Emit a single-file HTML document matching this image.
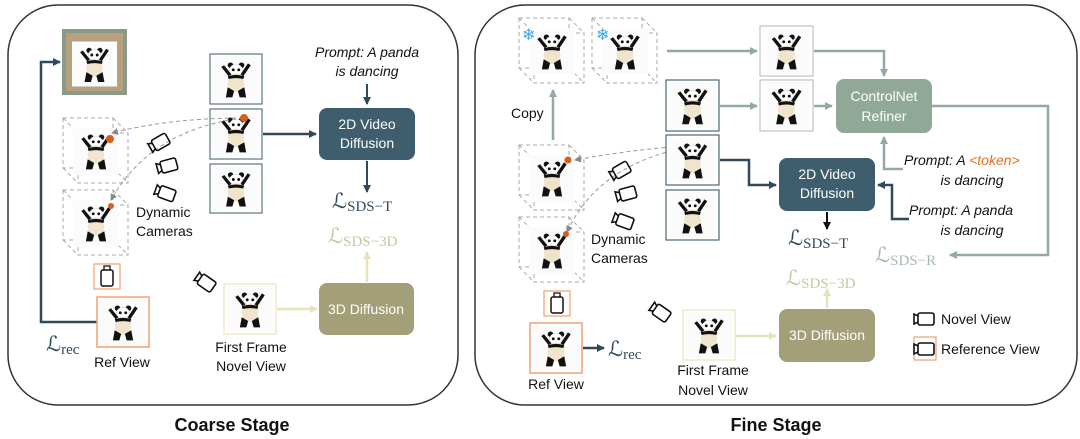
<!DOCTYPE html>
<html><head><meta charset="utf-8"><style>
html,body{margin:0;padding:0;background:#fff;}
svg{display:block;font-family:"Liberation Sans",sans-serif;}
.m{font-family:"Liberation Serif",serif;}
</style></head><body>
<svg width="1080" height="439" viewBox="0 0 1080 439" xmlns="http://www.w3.org/2000/svg">
<defs>
<symbol id="pd" viewBox="0 0 50 50">
<rect width="50" height="50" fill="#fbfbfb"/>
<circle cx="19" cy="10" r="3" fill="#111"/><circle cx="31" cy="10" r="3" fill="#111"/>
<ellipse cx="25" cy="15" rx="7" ry="6" fill="#fff" stroke="#ccc" stroke-width=".5"/>
<circle cx="22" cy="15" r="1.6" fill="#111"/><circle cx="28" cy="15" r="1.6" fill="#111"/>
<path d="M17 22 L9 12 L12 10 L20 20 Z M33 22 L41 10 L38 8 L30 20Z" fill="#111"/>
<ellipse cx="25" cy="29" rx="9" ry="10" fill="#f1e4cc"/>
<path d="M16 34 L14 45 L21 45 L23 38 Z M34 34 L36 45 L29 45 L27 38 Z" fill="#111"/>
<path d="M16 22 Q25 19 34 22 L33 25 Q25 23 17 25Z" fill="#111"/>
</symbol>
<symbol id="cam" viewBox="0 0 24 16">
<rect x="6" y="2" width="16" height="12" rx="2" fill="none" stroke="#111" stroke-width="1.6"/>
<path d="M6 5 L2 3 L2 13 L6 11" fill="none" stroke="#111" stroke-width="1.6"/>
</symbol>
<marker id="ad" markerWidth="8" markerHeight="8" refX="7" refY="4" orient="auto" markerUnits="userSpaceOnUse"><path d="M0 0 L8 4 L0 8Z" fill="#2f4a58"/></marker>
<marker id="ag" markerWidth="8" markerHeight="8" refX="7" refY="4" orient="auto" markerUnits="userSpaceOnUse"><path d="M0 0 L8 4 L0 8Z" fill="#93ab9b"/></marker>
<marker id="ay" markerWidth="8" markerHeight="8" refX="7" refY="4" orient="auto" markerUnits="userSpaceOnUse"><path d="M0 0 L8 4 L0 8Z" fill="#e6e3b8"/></marker>
<marker id="ak" markerWidth="8" markerHeight="8" refX="7" refY="4" orient="auto" markerUnits="userSpaceOnUse"><path d="M0 0 L8 4 L0 8Z" fill="#111"/></marker>
<marker id="ar" markerWidth="7" markerHeight="7" refX="6" refY="3.5" orient="auto" markerUnits="userSpaceOnUse"><path d="M0 0 L7 3.5 L0 7Z" fill="#888"/></marker>
<g id="cube">
<rect x="0" y="0" width="50" height="50" fill="none" stroke="#aaa" stroke-dasharray="4 3"/>
<rect x="15" y="15" width="50" height="50" fill="none" stroke="#aaa" stroke-dasharray="4 3"/>
<path d="M0 0L15 15M50 0L65 15M0 50L15 65M50 50L65 65" stroke="#aaa" stroke-dasharray="4 3"/>
<use href="#pd" x="10" y="8" width="46" height="50"/>
</g>
</defs>

<rect x="8" y="5" width="450" height="400" rx="50" fill="none" stroke="#333" stroke-width="1.5"/>
<rect x="475" y="5" width="602" height="400" rx="50" fill="none" stroke="#333" stroke-width="1.5"/>
<text x="232" y="431" font-size="18" font-weight="bold" text-anchor="middle" fill="#111">Coarse Stage</text>
<text x="776" y="431" font-size="18" font-weight="bold" text-anchor="middle" fill="#111">Fine  Stage</text>

<!-- Coarse -->
<rect x="62" y="29" width="65" height="66" fill="#8a9a88"/>
<rect x="66" y="33" width="57" height="58" fill="#c9a37a" opacity=".7"/>
<use href="#pd" x="72" y="38" width="45" height="52"/>
<path d="M97 322 H41 V62 H60" fill="none" stroke="#2f4a58" stroke-width="2.5" marker-end="url(#ad)"/>
<use href="#cube" x="63" y="118"/>
<use href="#cube" x="63" y="190"/>
<rect x="210" y="54" width="52" height="50" fill="#fff" stroke="#5d7480" stroke-width="1.2"/><use href="#pd" x="212" y="56" width="48" height="46"/>
<rect x="210" y="109" width="52" height="50" fill="#fff" stroke="#5d7480" stroke-width="1.2"/><use href="#pd" x="212" y="111" width="48" height="46"/>
<rect x="210" y="164" width="52" height="49" fill="#fff" stroke="#5d7480" stroke-width="1.2"/><use href="#pd" x="212" y="166" width="48" height="45"/>
<path d="M243 118 Q170 118 112 133" fill="none" stroke="#999" stroke-dasharray="4 3" marker-end="url(#ar)"/>
<path d="M243 118 Q150 130 111 200" fill="none" stroke="#999" stroke-dasharray="4 3" marker-end="url(#ar)"/>
<circle cx="244" cy="118" r="4" fill="#d5601c"/><circle cx="110" cy="139" r="4" fill="#d5601c"/><circle cx="111" cy="206" r="3" fill="#d5601c"/>
<use href="#cam" x="147" y="135" width="24" height="16" transform="rotate(-30 159 143)"/>
<use href="#cam" x="155" y="158" width="24" height="16" transform="rotate(-15 167 166)"/>
<use href="#cam" x="153" y="185" width="24" height="16" transform="rotate(20 165 193)"/>
<text x="136" y="217" font-size="14" fill="#111">Dynamic</text>
<text x="136" y="236" font-size="14" fill="#111">Cameras</text>
<rect x="94" y="264" width="26" height="25" fill="none" stroke="#f0a070" stroke-width="1.2"/>
<rect x="101" y="270" width="12" height="16" rx="2" fill="none" stroke="#111" stroke-width="1.5"/><path d="M104 270 V266 H110 V270" fill="none" stroke="#111" stroke-width="1.3"/>
<rect x="97" y="297" width="52" height="50" fill="#fff" stroke="#f0a070" stroke-width="1.5"/><use href="#pd" x="99" y="299" width="48" height="46"/>
<text x="46" y="351" font-size="21" fill="#2f4a58" class="m">ℒ<tspan font-size="15" dy="3">rec</tspan></text>
<text x="122" y="367" font-size="14" text-anchor="middle" fill="#111">Ref View</text>
<use href="#cam" x="193" y="274" width="24" height="16" transform="rotate(35 205 282)"/>
<rect x="224" y="284" width="52" height="50" fill="#fff" stroke="#eeeac6" stroke-width="1.5"/><use href="#pd" x="226" y="286" width="48" height="46"/>
<text x="251" y="352" font-size="14" text-anchor="middle" fill="#111">First Frame</text>
<text x="251" y="371" font-size="14" text-anchor="middle" fill="#111">Novel View</text>
<path d="M277 309 H317" stroke="#e6e3b8" stroke-width="2.5" marker-end="url(#ay)"/>
<rect x="319" y="283" width="95" height="52" rx="8" fill="#a39f78"/>
<text x="366" y="314" font-size="14" text-anchor="middle" fill="#fff">3D Diffusion</text>
<path d="M367 282 V252" stroke="#e6e3b8" stroke-width="2.5" marker-end="url(#ay)"/>
<text x="328" y="243" font-size="21" fill="#c8c6a0" class="m">ℒ<tspan font-size="15" dy="3">SDS−3D</tspan></text>
<rect x="319" y="108" width="96" height="52" rx="8" fill="#3e5e6e"/>
<text x="367" y="129" font-size="14" text-anchor="middle" fill="#fff">2D Video</text>
<text x="367" y="148" font-size="14" text-anchor="middle" fill="#fff">Diffusion</text>
<path d="M263 134 H316" stroke="#2f4a58" stroke-width="2.5" marker-end="url(#ad)"/>
<text x="367" y="57" font-size="14" font-style="italic" text-anchor="middle" fill="#111">Prompt: A panda</text>
<text x="367" y="76" font-size="14" font-style="italic" text-anchor="middle" fill="#111">is dancing</text>
<path d="M367 84 V104" stroke="#2f4a58" stroke-width="2" marker-end="url(#ad)"/>
<path d="M367 161 V192" stroke="#2f4a58" stroke-width="2" marker-end="url(#ad)"/>
<text x="332" y="208" font-size="21" fill="#2f4a58" class="m">ℒ<tspan font-size="15" dy="3">SDS−T</tspan></text>

<!-- Fine -->
<use href="#cube" x="519" y="18"/>
<use href="#cube" x="592" y="18"/>
<text x="522" y="40" font-size="16" fill="#3ba8e8">❄</text>
<text x="596" y="40" font-size="16" fill="#3ba8e8">❄</text>
<path d="M553 140 V90" stroke="#93ab9b" stroke-width="2.5" marker-end="url(#ag)"/>
<text x="511" y="118" font-size="14" fill="#111">Copy</text>
<use href="#cube" x="519" y="145"/>
<use href="#cube" x="519" y="217"/>
<path d="M700 145 Q640 148 575 160" fill="none" stroke="#999" stroke-dasharray="4 3" marker-end="url(#ar)"/>
<path d="M700 145 Q600 160 567 232" fill="none" stroke="#999" stroke-dasharray="4 3" marker-end="url(#ar)"/>
<circle cx="703" cy="145" r="3.5" fill="#d5601c"/><circle cx="568" cy="160" r="3.5" fill="#d5601c"/><circle cx="566" cy="234" r="3" fill="#d5601c"/>
<use href="#cam" x="608" y="163" width="24" height="16" transform="rotate(-30 620 171)"/>
<use href="#cam" x="614" y="186" width="24" height="16" transform="rotate(-15 626 194)"/>
<use href="#cam" x="611" y="213" width="24" height="16" transform="rotate(20 623 221)"/>
<text x="591" y="244" font-size="14" fill="#111">Dynamic</text>
<text x="591" y="263" font-size="14" fill="#111">Cameras</text>
<rect x="544" y="291" width="26" height="25" fill="none" stroke="#f0a070" stroke-width="1.2"/>
<rect x="551" y="297" width="12" height="16" rx="2" fill="none" stroke="#111" stroke-width="1.5"/><path d="M554 297 V293 H560 V297" fill="none" stroke="#111" stroke-width="1.3"/>
<rect x="530" y="323" width="52" height="50" fill="#fff" stroke="#f0a070" stroke-width="1.5"/><use href="#pd" x="532" y="325" width="48" height="46"/>
<text x="556" y="389" font-size="14" text-anchor="middle" fill="#111">Ref View</text>
<path d="M583 348 H604" stroke="#2f4a58" stroke-width="2.5" marker-end="url(#ad)"/>
<text x="608" y="356" font-size="21" fill="#2f4a58" class="m">ℒ<tspan font-size="15" dy="3">rec</tspan></text>
<use href="#cam" x="648" y="304" width="24" height="16" transform="rotate(35 660 312)"/>
<rect x="683" y="310" width="52" height="50" fill="#fff" stroke="#eeeac6" stroke-width="1.5"/><use href="#pd" x="685" y="312" width="48" height="46"/>
<text x="713" y="375" font-size="14" text-anchor="middle" fill="#111">First Frame</text>
<text x="713" y="395" font-size="14" text-anchor="middle" fill="#111">Novel View</text>
<path d="M736 336 H776" stroke="#e6e3b8" stroke-width="2.5" marker-end="url(#ay)"/>
<rect x="779" y="309" width="96" height="53" rx="8" fill="#a39f78"/>
<text x="827" y="340" font-size="14" text-anchor="middle" fill="#fff">3D Diffusion</text>
<path d="M827 308 V289" stroke="#e6e3b8" stroke-width="2.5" marker-end="url(#ay)"/>
<text x="786" y="285" font-size="21" fill="#c8c6a0" class="m">ℒ<tspan font-size="15" dy="3">SDS−3D</tspan></text>

<rect x="666" y="80" width="53" height="51" fill="#fff" stroke="#4e6673" stroke-width="1.2"/><use href="#pd" x="668" y="82" width="49" height="47"/>
<rect x="666" y="135" width="53" height="50" fill="#fff" stroke="#4e6673" stroke-width="1.2"/><use href="#pd" x="668" y="137" width="49" height="46"/>
<rect x="666" y="190" width="53" height="50" fill="#fff" stroke="#4e6673" stroke-width="1.2"/><use href="#pd" x="668" y="192" width="49" height="46"/>
<rect x="760" y="26" width="53" height="50" fill="#fff" stroke="#b7c8bc" stroke-width="1.2"/><use href="#pd" x="762" y="28" width="49" height="46"/>
<rect x="760" y="80" width="53" height="51" fill="#fff" stroke="#b7c8bc" stroke-width="1.2"/><use href="#pd" x="762" y="82" width="49" height="47"/>
<path d="M667 51 H757" stroke="#93ab9b" stroke-width="2.5" marker-end="url(#ag)"/>
<path d="M720 106 H757" stroke="#93ab9b" stroke-width="2.5" marker-end="url(#ag)"/>
<path d="M814 106 H832" stroke="#93ab9b" stroke-width="2.5" marker-end="url(#ag)"/>
<path d="M814 51 H884 V76" fill="none" stroke="#93ab9b" stroke-width="2.5" marker-end="url(#ag)"/>
<rect x="836" y="79" width="96" height="54" rx="8" fill="#8fa898"/>
<text x="884" y="101" font-size="14" text-anchor="middle" fill="#fff">ControlNet</text>
<text x="884" y="121" font-size="14" text-anchor="middle" fill="#fff">Refiner</text>
<path d="M932 106 H1048 V255 H950" fill="none" stroke="#93ab9b" stroke-width="2.5" marker-end="url(#ag)"/>
<text x="875" y="262" font-size="21" fill="#a9b9ae" class="m">ℒ<tspan font-size="15" dy="3">SDS−R</tspan></text>
<path d="M903 169 H884 V137" fill="none" stroke="#93ab9b" stroke-width="2.5" marker-end="url(#ag)"/>
<text x="904" y="165" font-size="14" font-style="italic" fill="#111">Prompt: A <tspan fill="#e07020">&lt;token&gt;</tspan></text>
<text x="972" y="185" font-size="14" font-style="italic" text-anchor="middle" fill="#111">is dancing</text>
<rect x="779" y="158" width="96" height="53" rx="8" fill="#3e5e6e"/>
<text x="827" y="179" font-size="14" text-anchor="middle" fill="#fff">2D Video</text>
<text x="827" y="198" font-size="14" text-anchor="middle" fill="#fff">Diffusion</text>
<path d="M720 160 H749 V185 H776" fill="none" stroke="#2f4a58" stroke-width="2.5" marker-end="url(#ad)"/>
<path d="M909 219 H892 V185 H878" fill="none" stroke="#2f4a58" stroke-width="2.5" marker-end="url(#ad)"/>
<text x="909" y="215" font-size="14" font-style="italic" fill="#111">Prompt: A panda</text>
<text x="972" y="235" font-size="14" font-style="italic" text-anchor="middle" fill="#111">is dancing</text>
<path d="M827 212 V229" stroke="#111" stroke-width="2" marker-end="url(#ak)"/>
<text x="788" y="245" font-size="21" fill="#2f4a58" class="m">ℒ<tspan font-size="15" dy="3">SDS−T</tspan></text>

<use href="#cam" x="912" y="311" width="24" height="16"/>
<text x="941" y="324" font-size="14" fill="#111">Novel View</text>
<rect x="914" y="337" width="22" height="23" fill="none" stroke="#f0a070" stroke-width="1.2"/>
<use href="#cam" x="912" y="341" width="24" height="16"/>
<text x="941" y="354" font-size="14" fill="#111">Reference View</text>
</svg>
</body></html>
